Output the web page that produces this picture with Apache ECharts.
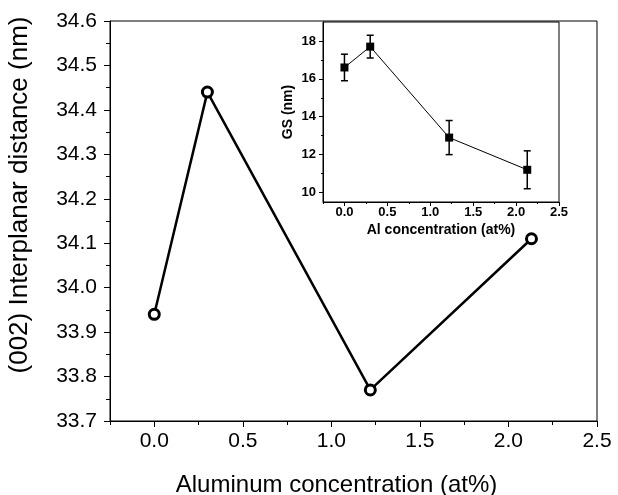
<!DOCTYPE html>
<html><head><meta charset="utf-8">
<script src="https://cdn.jsdelivr.net/npm/echarts@6/dist/echarts.min.js"></script>
<style>html,body{margin:0;padding:0;background:#fff}#c{width:618px;height:495px}</style>
</head><body><div id="c"></div>
<script>
// Main chart data
const mainX = [0, 0.3, 1.22, 2.13];
const mainY = [33.94, 34.44, 33.77, 34.11];
const mainXTicks = [0, 0.5, 1.0, 1.5, 2.0, 2.5];
const mainXMinor = [-0.25, 0.25, 0.75, 1.25, 1.75, 2.25];
// Inset data
const insetX = [0, 0.3, 1.22, 2.13];
const insetY = [16.6, 17.7, 12.9, 11.2];
const insetLow = [15.9, 17.1, 12.0, 10.2];
const insetHigh = [17.3, 18.3, 13.8, 12.2];
const insetXTicks = [0, 0.5, 1.0, 1.5, 2.0, 2.5];
const insetXMinor = [-0.25, 0.25, 0.75, 1.25, 1.75, 2.25];
const insetYTicks = [10, 12, 14, 16, 18];
const insetYMinor = [11, 13, 15, 17];

const F = 'Liberation Sans, Arial, sans-serif';
const chart = echarts.init(document.getElementById('c'));
const fmt1 = v => Number(v).toFixed(1);

chart.setOption({
  animation: false,
  backgroundColor: '#fff',
  grid: [
    {left: 110, right: 21, top: 21, bottom: 74, outerBoundsMode: 'none', containLabel: false, show: true, borderColor: '#000', borderWidth: 1, backgroundColor: 'transparent'},
    {left: 323, right: 59, top: 22, bottom: 293, outerBoundsMode: 'none', containLabel: false, show: true, borderColor: '#000', borderWidth: 1, backgroundColor: '#fff'}
  ],
  xAxis: [
    {gridIndex: 0, type: 'value', min: -0.25, max: 2.5,
     name: 'Aluminum concentration (at%)', nameLocation: 'middle', nameGap: 52,
     nameTextStyle: {fontFamily: F, fontSize: 24, color: '#000', padding: [0, 34, 0, 0]},
     axisLine: {onZero: false, lineStyle: {color: '#000', width: 1}},
     axisTick: {show: true, customValues: mainXTicks, length: 6, lineStyle: {color: '#000'}},
     axisLabel: {customValues: mainXTicks, formatter: fmt1, fontFamily: F, fontSize: 21, color: '#000', margin: 10},
     splitLine: {show: false}},
    {gridIndex: 0, type: 'value', min: -0.25, max: 2.5, position: 'bottom',
     axisLine: {show: false, onZero: false},
     axisTick: {show: true, customValues: mainXMinor, length: 4, lineStyle: {color: '#000'}},
     axisLabel: {show: false}, splitLine: {show: false}},
    {gridIndex: 1, type: 'value', min: -0.25, max: 2.5,
     name: 'Al concentration (at%)', nameLocation: 'middle', nameGap: 21,
     nameTextStyle: {fontFamily: F, fontSize: 14, fontWeight: 'bold', color: '#000'},
     axisLine: {onZero: false, lineStyle: {color: '#000', width: 1}},
     axisTick: {show: true, customValues: insetXTicks, length: 4, lineStyle: {color: '#000'}},
     axisLabel: {customValues: insetXTicks, formatter: fmt1, fontFamily: F, fontSize: 13, fontWeight: 'bold', color: '#000', margin: 4},
     splitLine: {show: false}},
    {gridIndex: 1, type: 'value', min: -0.25, max: 2.5, position: 'bottom',
     axisLine: {show: false, onZero: false},
     axisTick: {show: true, customValues: insetXMinor, length: 2, lineStyle: {color: '#000'}},
     axisLabel: {show: false}, splitLine: {show: false}}
  ],
  yAxis: [
    {gridIndex: 0, type: 'value', min: 33.7, max: 34.6, interval: 0.1,
     name: '(002) Interplanar distance (nm)', nameLocation: 'middle', nameGap: 77,
     nameTextStyle: {fontFamily: F, fontSize: 26, color: '#000', padding: [0, 0, 0, 52]},
     axisLine: {show: true, onZero: false, lineStyle: {color: '#000', width: 1}},
     axisTick: {show: true, length: 6, lineStyle: {color: '#000'}},
     minorTick: {show: true, splitNumber: 2, length: 4, lineStyle: {color: '#000'}},
     axisLabel: {formatter: fmt1, fontFamily: F, fontSize: 21, color: '#000', margin: 13},
     splitLine: {show: false}},
    {gridIndex: 1, type: 'value', min: 9.5, max: 19,
     name: 'GS (nm)', nameLocation: 'middle', nameGap: 28,
     nameTextStyle: {fontFamily: F, fontSize: 14, fontWeight: 'bold', color: '#000'},
     axisLine: {show: true, onZero: false, lineStyle: {color: '#000', width: 1}},
     axisTick: {show: true, customValues: insetYTicks, length: 4, lineStyle: {color: '#000'}},
     axisLabel: {customValues: insetYTicks, fontFamily: F, fontSize: 13, fontWeight: 'bold', color: '#000', margin: 7},
     splitLine: {show: false}},
    {gridIndex: 1, type: 'value', min: 9.5, max: 19, position: 'left',
     axisLine: {show: false, onZero: false},
     axisTick: {show: true, customValues: insetYMinor, length: 2, lineStyle: {color: '#000'}},
     axisLabel: {show: false}, splitLine: {show: false}}
  ],
  series: [
    {type: 'line', xAxisIndex: 0, yAxisIndex: 0,
     data: mainX.map((x, i) => [x, mainY[i]]),
     lineStyle: {color: '#000', width: 2.5},
     symbol: 'circle', symbolSize: 10,
     itemStyle: {color: '#fff', borderColor: '#000', borderWidth: 3}, z: 3},
    {type: 'custom', xAxisIndex: 2, yAxisIndex: 1,
     data: insetX.map((x, i) => [x, insetLow[i], insetHigh[i]]),
     renderItem: (params, api) => {
       const lo = api.coord([api.value(0), api.value(1)]);
       const hi = api.coord([api.value(0), api.value(2)]);
       const w = 3.5;
       const st = {stroke: '#000', lineWidth: 1.5};
       return {type: 'group', children: [
         {type: 'line', shape: {x1: lo[0], y1: lo[1], x2: hi[0], y2: hi[1]}, style: st},
         {type: 'line', shape: {x1: lo[0]-w, y1: lo[1], x2: lo[0]+w, y2: lo[1]}, style: st},
         {type: 'line', shape: {x1: hi[0]-w, y1: hi[1], x2: hi[0]+w, y2: hi[1]}, style: st}
       ]};
     }, z: 4},
    {type: 'line', xAxisIndex: 2, yAxisIndex: 1,
     data: insetX.map((x, i) => [x, insetY[i]]),
     lineStyle: {color: '#000', width: 1},
     symbol: 'rect', symbolSize: 8,
     itemStyle: {color: '#000'}, z: 5}
  ]
});
</script>
</body></html>
